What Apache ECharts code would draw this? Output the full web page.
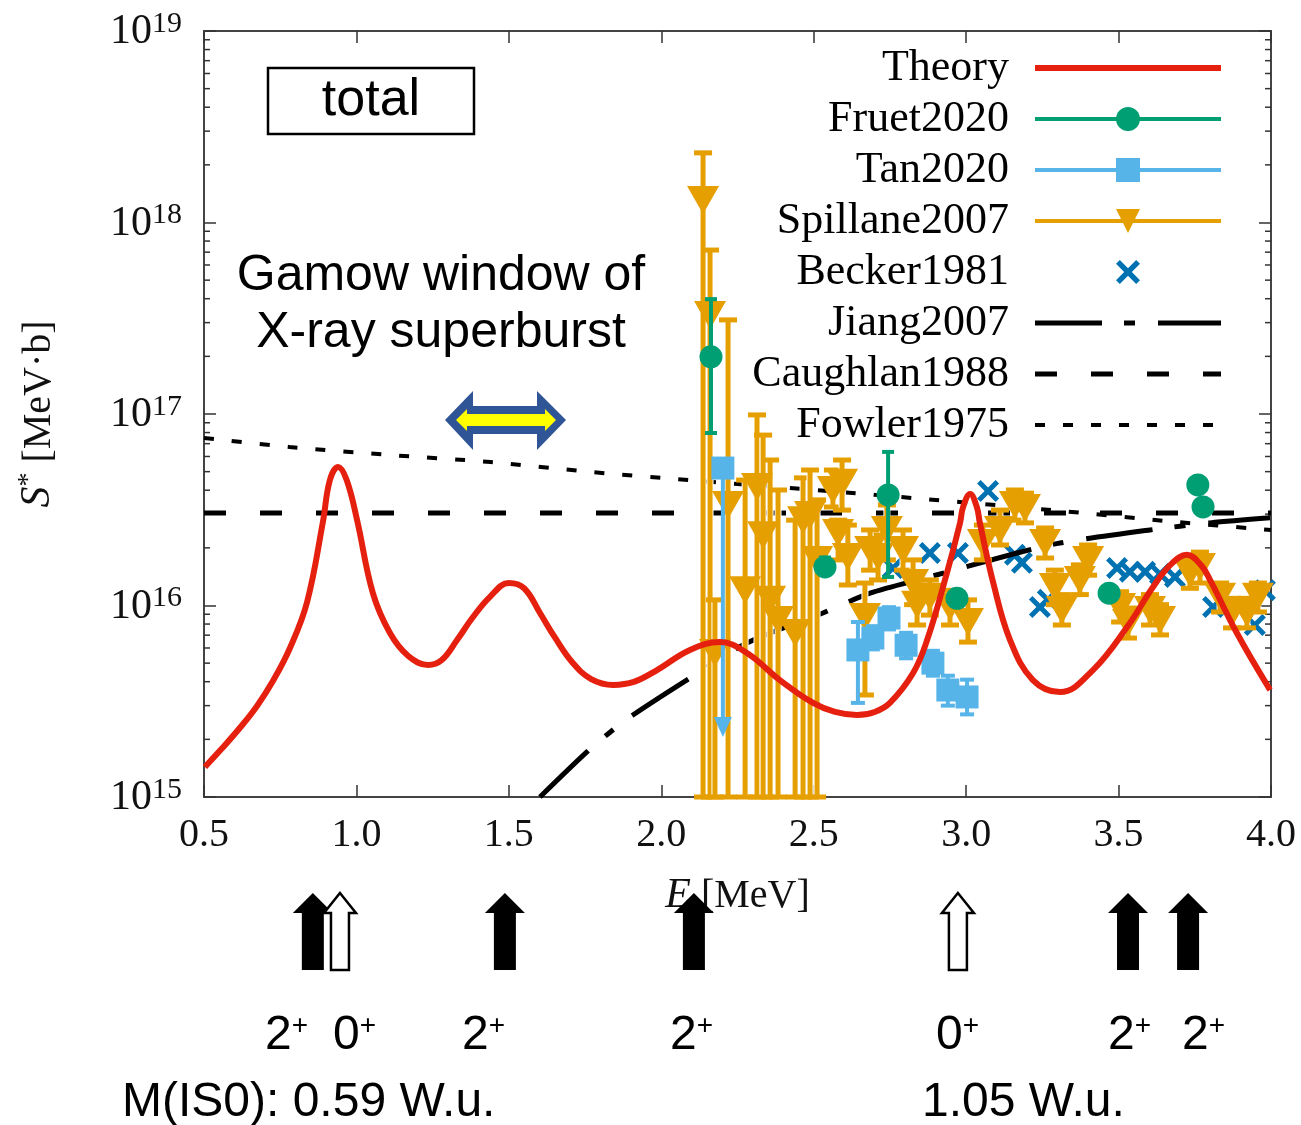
<!DOCTYPE html>
<html>
<head>
<meta charset="utf-8">
<script src="https://cdn.jsdelivr.net/npm/echarts@6/dist/echarts.min.js"></script>
<style>
  html, body { margin: 0; padding: 0; background: #fff; }
  #chart { width: 1301px; height: 1125px; }
</style>
</head>
<body>
<div id="chart"></div>
<script>
const SERIF = '"Liberation Serif", "DejaVu Serif", serif'
const SANS = '"Liberation Sans", Arial, sans-serif'

const RED = '#e5200f'
const GREEN = '#009e73'
const SKY = '#56b4e9'
const ORANGE = '#e69f00'
const BLUE = '#0072b2'

// Theory (red curve)
const theoryE = [0.503, 0.56, 0.62, 0.674, 0.726, 0.782, 0.838, 0.890, 0.913, 0.940, 0.968, 1.002, 1.054, 1.110, 1.17, 1.235, 1.28, 1.330, 1.38, 1.438, 1.500, 1.55, 1.602, 1.65, 1.710, 1.77, 1.842, 1.91, 1.986, 2.094, 2.193, 2.281, 2.389, 2.498, 2.57, 2.642, 2.70, 2.750, 2.826, 2.872, 2.937, 2.980, 2.990, 3.013, 3.035, 3.045, 3.088, 3.144, 3.219, 3.308, 3.416, 3.528, 3.613, 3.67, 3.724, 3.77, 3.800, 3.888, 3.997]
const theoryS = [1.435e15, 1.80e15, 2.32e15, 2.99e15, 4.03e15, 6.0e15, 1.04e16, 2.73e16, 4.52e16, 5.29e16, 4.52e16, 2.80e16, 1.16e16, 7.18e15, 5.45e15, 4.89e15, 5.19e15, 6.6e15, 8.6e15, 1.11e16, 1.31e16, 1.23e16, 9.14e15, 6.85e15, 5.01e15, 4.13e15, 3.85e15, 3.99e15, 4.6e15, 5.86e15, 6.44e15, 5.65e15, 4.08e15, 3.1e15, 2.78e15, 2.68e15, 2.78e15, 3.1e15, 4.44e15, 6.6e15, 1.48e16, 2.70e16, 3.27e16, 3.82e16, 3.27e16, 2.70e16, 1.33e16, 6.6e15, 4.08e15, 3.53e15, 4.6e15, 7.72e15, 1.25e16, 1.63e16, 1.84e16, 1.63e16, 1.36e16, 7.18e15, 3.62e15]

// Fruet2020
const fruetE = [2.163, 2.537, 2.744, 2.970, 3.469, 3.760, 3.777]
const fruetS = [1.99e17, 1.59e16, 3.78e16, 1.09e16, 1.16e16, 4.26e16, 3.27e16]
const fruetLo = [7.96e16, 1.45e16, 1.41e16, 1.0e16, 1.08e16, 4.0e16, 3.1e16]
const fruetHi = [3.98e17, 1.78e16, 6.34e16, 1.2e16, 1.25e16, 4.5e16, 3.45e16]

// Tan2020 (first point is an upper limit)
const tanE = [2.202, 2.645, 2.694, 2.747, 2.803, 2.891, 2.940, 3.003]
const tanS = [5.22e16, 5.86e15, 6.76e15, 8.6e15, 6.2e15, 5.0e15, 3.62e15, 3.33e15]
const tanLo = [2.06e15, 3.1e15, 5.9e15, 7.5e15, 5.3e15, 4.3e15, 3.0e15, 2.7e15]
const tanHi = [5.22e16, 8.2e15, 7.8e15, 9.8e15, 7.2e15, 5.8e15, 4.3e15, 4.1e15]
const tanLimit = [1, 0, 0, 0, 0, 0, 0, 0]

// Spillane2007
const spillaneE = [2.137, 2.160, 2.176, 2.219, 2.275, 2.314, 2.334, 2.357, 2.383, 2.439, 2.465, 2.488, 2.511, 2.563, 2.593, 2.580, 2.612, 2.668, 2.711, 2.740, 2.685, 2.793, 2.826, 2.839, 2.881, 2.947, 3.006, 3.055, 3.111, 3.160, 3.193, 3.259, 3.291, 3.314, 3.373, 3.400, 3.505, 3.531, 3.603, 3.636, 3.734, 3.767, 3.833, 3.872, 3.921, 3.957]
const spillaneS = [1.31e18, 3.29e17, 5.65e15, 3.35e16, 1.2e16, 4.16e16, 2.33e16, 1.07e16, 8.4e15, 7.18e15, 2.79e16, 2.97e16, 1.73e16, 4.01e16, 4.37e16, 2.39e16, 1.79e16, 8.71e15, 1.79e16, 2.48e16, 1.95e16, 1.95e16, 1.31e16, 1.01e16, 1.11e16, 9.82e15, 8.2e15, 2.12e16, 2.48e16, 3.35e16, 3.23e16, 2.12e16, 1.25e16, 9.46e15, 1.36e16, 1.73e16, 9.82e15, 8.11e15, 9.46e15, 8.4e15, 1.48e16, 1.59e16, 1.11e16, 9.14e15, 9.14e15, 1.11e16]
const spillaneLo = [1e15, 1e15, 1e15, 1e15, 1e15, 1e15, 1e15, 1e15, 1e15, 1e15, 1e15, 1e15, 1e15, 3.27e16, 3.15e16, 1.73e16, 1.28e16, 3.41e15, 1.36e16, 1.73e16, 1.53e16, 1.53e16, 1.01e16, 7.91e15, 8.91e15, 7.91e15, 6.44e15, 1.73e16, 2.07e16, 2.79e16, 2.7e16, 1.77e16, 1.01e16, 7.91e15, 1.14e16, 1.44e16, 8.2e15, 6.76e15, 7.91e15, 7.02e15, 1.23e16, 1.31e16, 9.25e15, 7.64e15, 7.64e15, 9.25e15]
const spillaneHi = [2.31e18, 7.18e17, 1.07e16, 3.1e17, 4.52e16, 9.89e16, 7.76e16, 5.75e16, 4.01e16, 2.79e16, 4.64e16, 5.1e16, 3.56e16, 5.1e16, 5.75e16, 2.79e16, 2.63e16, 1.31e16, 2.33e16, 3.35e16, 2.48e16, 2.48e16, 1.73e16, 1.28e16, 1.36e16, 1.2e16, 1.07e16, 2.63e16, 3.15e16, 4.01e16, 3.86e16, 2.54e16, 1.53e16, 1.14e16, 1.63e16, 2.07e16, 1.18e16, 9.7e15, 1.14e16, 1.01e16, 1.77e16, 1.9e16, 1.31e16, 1.09e16, 1.09e16, 1.31e16]

// Becker1981
const beckerE = [2.760, 2.881, 2.973, 3.072, 3.160, 3.183, 3.242, 3.268, 3.495, 3.537, 3.587, 3.636, 3.685, 3.810, 3.947, 3.980]
const beckerS = [1.57e16, 1.88e16, 1.88e16, 3.96e16, 1.84e16, 1.67e16, 9.82e15, 1.07e16, 1.57e16, 1.5e16, 1.5e16, 1.46e16, 1.41e16, 9.82e15, 7.9e15, 1.2e16]

// Jiang2007, Caughlan1988, Fowler1975
const jiangE = [1.602, 1.756, 1.832, 1.907, 2.094, 2.281, 2.530, 2.685, 2.872, 3.167, 3.308, 3.603, 3.800, 3.997]
const jiangS = [1.0e15, 1.72e15, 2.18e15, 2.68e15, 4.18e15, 6.37e15, 9.14e15, 1.16e16, 1.40e16, 1.88e16, 2.12e16, 2.48e16, 2.7e16, 2.87e16]
const caughlanE = [0.5, 4.0]
const caughlanS = [3.04e16, 3.04e16]
const fowlerE = [0.5, 0.78, 1.11, 1.44, 1.77, 2.09, 2.71, 3.28, 3.69, 4.0]
const fowlerS = [7.5e16, 6.73e16, 6.11e16, 5.61e16, 4.98e16, 4.52e16, 3.77e16, 3.15e16, 2.73e16, 2.48e16]

// level arrows under the axis: 1 = filled (2+), 0 = open (0+)
const levelE = [0.857, 0.946, 1.487, 2.107, 2.973, 3.531, 3.728]
const levelFilled = [1, 0, 1, 1, 0, 1, 1]

// log-axis minor ticks
const decades = [1e15, 1e16, 1e17, 1e18]
const minorMult = [2, 3, 4, 5, 6, 7, 8, 9]

const X_PATH = 'path://M0,1.6L1.6,0L5,3.4L8.4,0L10,1.6L6.6,5L10,8.4L8.4,10L5,6.6L1.6,10L0,8.4L3.4,5Z'
const TRI_PATH = 'path://M0,0L10,0L5,8.7Z'

const JIANG_DASH = [67, 22, 11, 23]
const CAUGHLAN_DASH = [22, 34]
const FOWLER_DASH = [10, 18]

const pair = (xs, ys) => xs.map((x, i) => [x, ys[i]])
const withErr = (xs, ys, lo, hi) => xs.map((x, i) => [x, ys[i], lo[i], hi[i]])

const seg = (x1, y1, x2, y2, stroke, w) => ({
  type: 'line', shape: { x1, y1, x2, y2 }, style: { stroke, lineWidth: w }
})

function errorBars(color, lineW, capW, outline) {
  return function (params, api) {
    const x = api.value(0)
    const hi = api.coord([x, api.value(3)])
    const lo = api.coord([x, api.value(2)])
    const h = capW / 2
    const parts = []
    if (outline) parts.push(seg(hi[0], hi[1], lo[0], lo[1], '#fff', lineW + 2))
    parts.push(seg(hi[0], hi[1], lo[0], lo[1], color, lineW))
    parts.push(seg(hi[0] - h, hi[1], hi[0] + h, hi[1], color, lineW))
    parts.push(seg(lo[0] - h, lo[1], lo[0] + h, lo[1], color, lineW))
    return { type: 'group', children: parts }
  }
}

function tanBars(params, api) {
  const x = api.value(0)
  const pt = api.coord([x, api.value(1)])
  const lo = api.coord([x, api.value(2)])
  const hi = api.coord([x, api.value(3)])
  if (api.value(4)) {
    return {
      type: 'group',
      children: [
        seg(pt[0], pt[1], lo[0], lo[1] - 16, SKY, 4),
        { type: 'polygon', shape: { points: [[lo[0] - 9, lo[1] - 20], [lo[0] + 9, lo[1] - 20], [lo[0], lo[1]]] }, style: { fill: SKY } }
      ]
    }
  }
  return {
    type: 'group',
    children: [
      seg(hi[0], hi[1], lo[0], lo[1], SKY, 4),
      seg(hi[0] - 7, hi[1], hi[0] + 7, hi[1], SKY, 4),
      seg(lo[0] - 7, lo[1], lo[0] + 7, lo[1], SKY, 4)
    ]
  }
}

function minorTicks(params, api) {
  const v = api.value(1)
  const l = api.coord([0.5, v])
  const r = api.coord([4.0, v])
  return {
    type: 'group',
    children: [
      seg(l[0], l[1], l[0] + 6, l[1], '#333', 1.5),
      seg(r[0] - 6, r[1], r[0], r[1], '#333', 1.5)
    ]
  }
}

function levelArrow(params, api) {
  const p = api.coord([api.value(0), api.value(1)])
  const x = p[0], y0 = p[1]
  const filled = api.value(2) === 1
  const hw = filled ? 20 : 16
  const sw = filled ? 11 : 9
  const pts = [
    [x, y0 + 96], [x + hw, y0 + 116], [x + sw, y0 + 116], [x + sw, y0 + 173],
    [x - sw, y0 + 173], [x - sw, y0 + 116], [x - hw, y0 + 116]
  ]
  return {
    type: 'polygon',
    shape: { points: pts },
    style: filled ? { fill: '#000' } : { fill: '#fff', stroke: '#000', lineWidth: 2.5 }
  }
}

const minorData = []
decades.forEach(d => minorMult.forEach(m => minorData.push([0.5, d * m])))

const arrowPoly = (pts, fill) => ({ type: 'polygon', shape: { points: pts }, style: { fill }, z: 100 })

const spinLabel = (x, digit) => ({
  type: 'text', x, y: 1036, z: 100,
  style: {
    text: '{a|' + digit + '}{b|+}', verticalAlign: 'middle', align: 'left',
    rich: {
      a: { fontFamily: SANS, fontSize: 48, lineHeight: 48, verticalAlign: 'bottom', fill: '#000' },
      b: { fontFamily: SANS, fontSize: 28, lineHeight: 28, verticalAlign: 'top', fill: '#000' }
    }
  }
})

const chart = echarts.init(document.getElementById('chart'))

const yLabelRich = {
  b: { fontFamily: SERIF, fontSize: 42, lineHeight: 44, color: '#111', verticalAlign: 'bottom' },
  e: { fontFamily: SERIF, fontSize: 30, lineHeight: 30, color: '#111', verticalAlign: 'top' }
}

const frameLine = { onZero: false, lineStyle: { color: '#444', width: 2 } }
const frameTick = { inside: true, length: 12, lineStyle: { color: '#333', width: 1.5 } }

chart.setOption({
  animation: false,
  backgroundColor: '#fff',
  grid: { left: 204, right: 30, top: 31, bottom: 328 },
  legend: {
    orient: 'vertical',
    right: 77,
    top: 45,
    align: 'right',
    padding: 0,
    itemWidth: 186,
    itemHeight: 30,
    itemGap: 5,
    selectedMode: false,
    textStyle: { fontFamily: SERIF, fontSize: 44, lineHeight: 46, color: '#000', padding: [0, 21, 0, 0] },
    data: [
      { name: 'Theory', itemStyle: { opacity: 0 }, lineStyle: { color: RED, width: 6, opacity: 1, type: 'solid' } },
      { name: 'Fruet2020', lineStyle: { color: GREEN, width: 4, opacity: 1, type: 'solid' } },
      { name: 'Tan2020', lineStyle: { color: SKY, width: 4, opacity: 1, type: 'solid' } },
      { name: 'Spillane2007', lineStyle: { color: ORANGE, width: 4, opacity: 1, type: 'solid' } },
      { name: 'Becker1981', lineStyle: { opacity: 0, width: 0 } },
      { name: 'Jiang2007', itemStyle: { opacity: 0 }, lineStyle: { color: '#000', width: 5, opacity: 1, type: JIANG_DASH } },
      { name: 'Caughlan1988', itemStyle: { opacity: 0 }, lineStyle: { color: '#000', width: 5, opacity: 1, type: CAUGHLAN_DASH } },
      { name: 'Fowler1975', itemStyle: { opacity: 0 }, lineStyle: { color: '#000', width: 4, opacity: 1, type: FOWLER_DASH } }
    ]
  },
  xAxis: [
    {
      type: 'value', min: 0.5, max: 4.0, interval: 0.5, position: 'bottom',
      axisLine: frameLine, axisTick: frameTick, splitLine: { show: false },
      axisLabel: { fontFamily: SERIF, fontSize: 40, color: '#111', margin: 18, formatter: v => v.toFixed(1) },
      name: '{i|E} {n|[MeV]}', nameLocation: 'middle', nameGap: 78,
      nameTextStyle: {
        fontFamily: SERIF, fontSize: 40, color: '#111',
        rich: {
          i: { fontFamily: SERIF, fontSize: 42, fontStyle: 'italic', color: '#111' },
          n: { fontFamily: SERIF, fontSize: 40, color: '#111' }
        }
      }
    },
    {
      type: 'value', min: 0.5, max: 4.0, interval: 0.5, position: 'top',
      axisLine: frameLine, axisTick: frameTick, splitLine: { show: false },
      axisLabel: { show: false }
    }
  ],
  yAxis: [
    {
      type: 'log', logBase: 10, min: 1e15, max: 1e19, position: 'left',
      axisLine: frameLine, axisTick: frameTick, splitLine: { show: false },
      axisLabel: {
        margin: 22, showMinLabel: true, showMaxLabel: true,
        formatter: v => '{b|10}{e|' + Math.round(Math.log10(v)) + '}',
        rich: yLabelRich
      },
      name: '{i|S}{s|*}{n| [MeV·b]}', nameLocation: 'middle', nameGap: 145,
      nameTextStyle: {
        fontFamily: SERIF, fontSize: 40, color: '#111',
        rich: {
          i: { fontFamily: SERIF, fontSize: 42, fontStyle: 'italic', color: '#111', verticalAlign: 'bottom', lineHeight: 44 },
          s: { fontFamily: SERIF, fontSize: 28, color: '#111', verticalAlign: 'top', lineHeight: 28 },
          n: { fontFamily: SERIF, fontSize: 40, color: '#111', verticalAlign: 'bottom', lineHeight: 44 }
        }
      }
    },
    {
      type: 'log', logBase: 10, min: 1e15, max: 1e19, position: 'right',
      axisLine: frameLine, axisTick: frameTick, splitLine: { show: false },
      axisLabel: { show: false }
    }
  ],
  series: [
    {
      type: 'custom', name: 'minor ticks', silent: true, z: 1,
      renderItem: minorTicks, data: minorData, encode: { x: 0, y: 1 }
    },
    {
      type: 'line', name: 'Becker1981', z: 2, data: pair(beckerE, beckerS),
      symbol: X_PATH, symbolSize: 22, showSymbol: true,
      itemStyle: { color: BLUE }, lineStyle: { opacity: 0, color: BLUE }
    },
    {
      type: 'line', name: 'Jiang2007', z: 3, data: pair(jiangE, jiangS), smooth: 0.3,
      symbol: 'none', itemStyle: { color: '#000' },
      lineStyle: { color: '#000', width: 5, type: JIANG_DASH }
    },
    {
      type: 'line', name: 'Caughlan1988', z: 3, data: pair(caughlanE, caughlanS),
      symbol: 'none', itemStyle: { color: '#000' },
      lineStyle: { color: '#000', width: 5, type: CAUGHLAN_DASH }
    },
    {
      type: 'line', name: 'Fowler1975', z: 3, data: pair(fowlerE, fowlerS), smooth: 0.3,
      symbol: 'none', itemStyle: { color: '#000' },
      lineStyle: { color: '#000', width: 4, type: FOWLER_DASH }
    },
    {
      type: 'custom', name: 'Spillane2007 errors', silent: true, z: 4,
      renderItem: errorBars(ORANGE, 5, 18, true),
      data: withErr(spillaneE, spillaneS, spillaneLo, spillaneHi), encode: { x: 0, y: 1 }
    },
    {
      type: 'line', name: 'Spillane2007', z: 5, data: pair(spillaneE, spillaneS),
      symbol: TRI_PATH, symbolSize: [32, 28], showSymbol: true,
      itemStyle: { color: ORANGE }, lineStyle: { opacity: 0, color: ORANGE }
    },
    {
      type: 'custom', name: 'Fruet2020 errors', silent: true, z: 6,
      renderItem: errorBars(GREEN, 4, 12, false),
      data: withErr(fruetE, fruetS, fruetLo, fruetHi), encode: { x: 0, y: 1 }
    },
    {
      type: 'line', name: 'Fruet2020', z: 7, data: pair(fruetE, fruetS),
      symbol: 'circle', symbolSize: 23, showSymbol: true,
      itemStyle: { color: GREEN }, lineStyle: { opacity: 0, color: GREEN }
    },
    {
      type: 'custom', name: 'Tan2020 errors', silent: true, z: 8,
      renderItem: tanBars,
      data: tanE.map((x, i) => [x, tanS[i], tanLo[i], tanHi[i], tanLimit[i]]), encode: { x: 0, y: 1 }
    },
    {
      type: 'line', name: 'Tan2020', z: 9, data: pair(tanE, tanS),
      symbol: 'rect', symbolSize: 23, showSymbol: true,
      itemStyle: { color: SKY }, lineStyle: { opacity: 0, color: SKY }
    },
    {
      type: 'line', name: 'Theory', z: 10, data: pair(theoryE, theoryS), smooth: 0.4,
      symbol: 'none', itemStyle: { color: RED },
      lineStyle: { color: RED, width: 6 }
    },
    {
      type: 'custom', name: 'levels', silent: true, z: 12,
      renderItem: levelArrow,
      data: levelE.map((x, i) => [x, 1e15, levelFilled[i]]), encode: { x: 0, y: 1 }
    }
  ],
  graphic: [
    {
      type: 'rect', z: 100, shape: { x: 268, y: 68, width: 206, height: 66 },
      style: { fill: '#fff', stroke: '#000', lineWidth: 2.5 }
    },
    {
      type: 'text', z: 101, x: 371, y: 101,
      style: { text: 'total', fontFamily: SANS, fontSize: 52, fill: '#000', align: 'center', verticalAlign: 'middle' }
    },
    {
      type: 'text', z: 100, x: 441, y: 305,
      style: {
        text: 'Gamow window of\nX-ray superburst', fontFamily: SANS, fontSize: 50, lineHeight: 57,
        fill: '#000', align: 'center', verticalAlign: 'middle'
      }
    },
    arrowPoly([[445, 420], [473, 391], [473, 406], [537, 406], [537, 391], [566, 420], [537, 450], [537, 434], [473, 434], [473, 450]], '#2f5597'),
    arrowPoly([[456, 420], [467, 409], [467, 414], [545, 414], [545, 409], [556, 420], [545, 431], [545, 426], [467, 426], [467, 431]], '#ffff00'),
    spinLabel(265, '2'),
    spinLabel(333, '0'),
    spinLabel(462, '2'),
    spinLabel(670, '2'),
    spinLabel(936, '0'),
    spinLabel(1108, '2'),
    spinLabel(1182, '2'),
    {
      type: 'text', z: 100, x: 122, y: 1103,
      style: { text: 'M(IS0): 0.59 W.u.', fontFamily: SANS, fontSize: 48, fill: '#000', align: 'left', verticalAlign: 'middle' }
    },
    {
      type: 'text', z: 100, x: 922, y: 1103,
      style: { text: '1.05 W.u.', fontFamily: SANS, fontSize: 48, fill: '#000', align: 'left', verticalAlign: 'middle' }
    }
  ]
})
</script>
</body>
</html>
